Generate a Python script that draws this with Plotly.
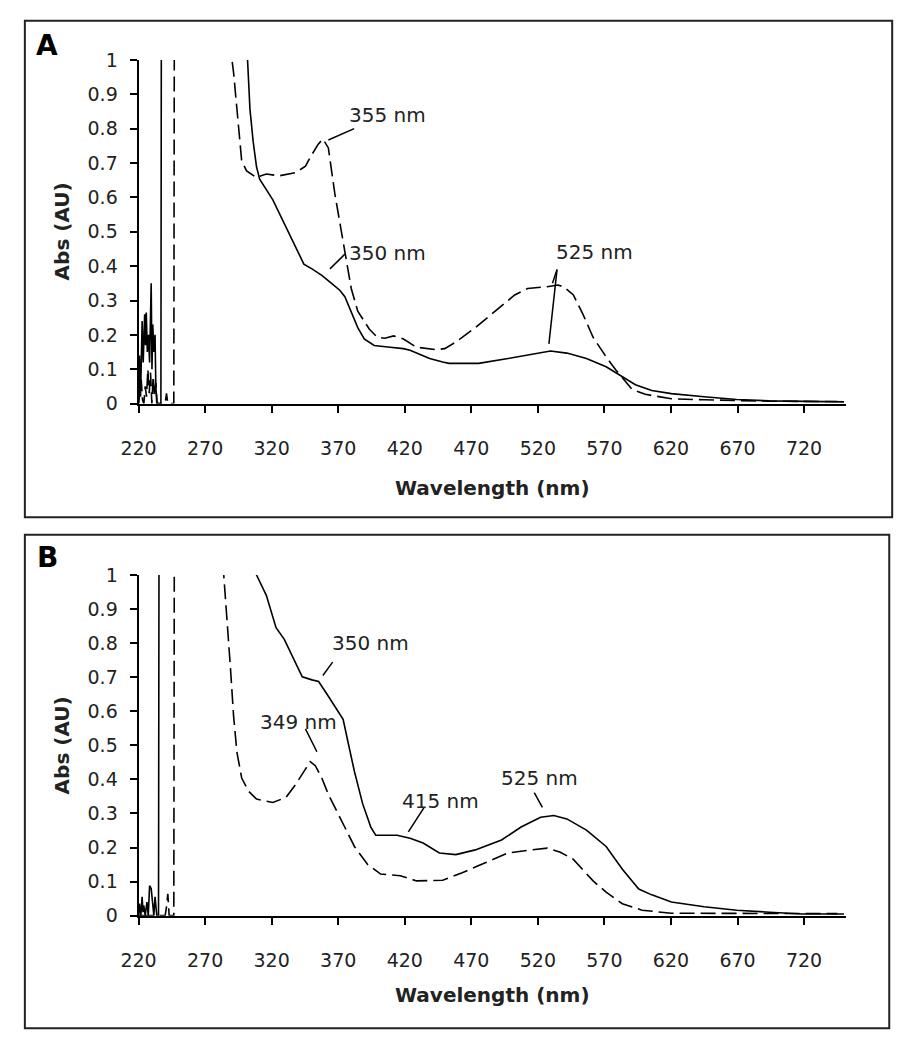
import plotly.graph_objects as go

# ---------------- data ----------------
# Panel A, solid trace
a_solid_wl = [220.0, 220.7, 221.5, 222.7, 223.5, 224.6, 225.2, 225.8, 226.6, 227.5, 228.3, 229.5,
              230.1, 230.7, 231.5, 232.4, 233.0, 233.7, 236.8, 237.4, 300.0, 301.9, 303.7, 306.1,
              308.6, 311.0, 320.9, 330.7, 338.0, 344.2, 350.3, 357.7, 365.0, 371.2, 375.0, 379.8,
              384.7, 389.6, 397.0, 409.0, 419.0, 424.0, 433.8, 438.7, 448.5, 453.4, 460.8, 475.5,
              497.6, 517.3, 529.5, 541.8, 556.5, 571.3, 581.0, 593.3, 605.6, 620.3, 644.9, 669.4,
              694.0, 750.0]
a_solid_abs = [0.0, 0.14, 0.02, 0.24, 0.12, 0.26, 0.17, 0.265, 0.15, 0.2, 0.12, 0.35,
               0.1, 0.23, 0.15, 0.2, 0.05, 0.0, 0.0, 2.0, 2.0, 1.0, 0.857, 0.763,
               0.69, 0.653, 0.593, 0.516, 0.459, 0.406, 0.392, 0.373, 0.35, 0.33, 0.311, 0.269,
               0.221, 0.188, 0.169, 0.164, 0.16, 0.155, 0.14, 0.131, 0.121, 0.117, 0.117, 0.117,
               0.131, 0.145, 0.153, 0.147, 0.131, 0.107, 0.084, 0.055, 0.038, 0.029, 0.02, 0.012,
               0.008, 0.005]

# Panel A, dashed trace
a_dash_wl = [220.0, 221.0, 222.0, 223.0, 224.0, 225.0, 226.0, 227.0, 228.0, 229.0, 230.0, 231.0,
             232.0, 233.0, 234.0, 240.0, 241.0, 242.0, 246.5, 247.2, 289.5, 290.2, 291.4, 293.9,
             295.8, 297.5, 301.2, 308.6, 316.0, 325.8, 338.0, 345.4, 350.3, 355.0, 358.5, 362.6,
             367.5, 371.2, 375.0, 379.8, 384.7, 393.3, 399.4, 405.0, 411.7, 419.0, 428.9, 443.6,
             450.0, 458.4, 473.0, 487.8, 502.6, 512.3, 527.0, 535.0, 539.4, 546.7, 554.0, 561.5,
             571.3, 578.6, 590.9, 600.7, 620.3, 645.0, 669.0, 694.0, 745.0]
a_dash_abs = [0.0, 0.03, 0.07, 0.01, 0.0, 0.05, 0.02, 0.1, 0.03, 0.09, 0.0, 0.08,
              0.02, 0.06, 0.0, 0.0, 0.03, 0.0, 0.0, 2.0, 2.0, 1.0, 0.963, 0.858,
              0.763, 0.706, 0.677, 0.658, 0.668, 0.663, 0.672, 0.691, 0.725, 0.755, 0.77, 0.744,
              0.61, 0.525, 0.44, 0.335, 0.269, 0.217, 0.193, 0.19, 0.197, 0.188, 0.164, 0.157,
              0.16, 0.179, 0.221, 0.269, 0.316, 0.335, 0.34, 0.345, 0.34, 0.316, 0.259, 0.193,
              0.136, 0.098, 0.041, 0.027, 0.014, 0.011, 0.008, 0.007, 0.006]

# Panel B, solid trace
b_solid_wl = [220.0, 220.7, 221.7, 222.7, 223.3, 223.9, 225.0, 226.3, 227.3, 228.3, 229.5, 230.7,
              231.5, 232.4, 233.7, 235.0, 235.7, 307.5, 308.6, 316.0, 323.3, 329.5, 335.6, 343.0,
              350.3, 355.3, 362.6, 368.7, 373.7, 377.4, 382.2, 388.4, 394.5, 398.2, 414.2, 424.0,
              433.8, 446.0, 458.4, 473.0, 492.7, 507.4, 522.1, 532.0, 541.8, 556.5, 571.3, 583.5,
              595.8, 605.6, 620.3, 644.9, 669.5, 694.0, 718.5, 750.0]
b_solid_abs = [0.0, 0.035, 0.0, 0.055, 0.01, 0.03, 0.0, 0.04, 0.0, 0.088, 0.08, 0.02,
               0.0, 0.055, 0.0, 0.0, 2.0, 2.0, 1.0, 0.94, 0.845, 0.811, 0.759, 0.701,
               0.692, 0.687, 0.644, 0.605, 0.576, 0.509, 0.423, 0.328, 0.26, 0.236, 0.236, 0.227,
               0.213, 0.184, 0.179, 0.193, 0.222, 0.26, 0.289, 0.294, 0.284, 0.251, 0.203, 0.136,
               0.078, 0.061, 0.04, 0.026, 0.016, 0.01, 0.005, 0.005]

# Panel B, dashed trace
b_dash_wl = [220.0, 240.0, 241.0, 242.0, 243.0, 246.5, 247.2, 283.5, 284.0, 286.5, 289.0, 291.4,
             293.9, 297.5, 302.5, 308.6, 320.9, 330.7, 338.0, 345.4, 349.0, 352.8, 357.7, 362.6,
             368.7, 374.9, 382.2, 392.1, 401.9, 416.6, 428.9, 448.5, 463.2, 480.5, 497.6, 514.8,
             527.1, 536.9, 546.7, 561.5, 571.3, 583.5, 598.3, 620.3, 694.0, 745.0]
b_dash_abs = [0.0, 0.0, 0.026, 0.064, 0.0, 0.0, 2.0, 2.0, 1.0, 0.874, 0.73, 0.586,
              0.48, 0.404, 0.366, 0.342, 0.332, 0.347, 0.385, 0.43, 0.452, 0.44, 0.404, 0.356,
              0.308, 0.26, 0.203, 0.15, 0.122, 0.117, 0.102, 0.104, 0.126, 0.155, 0.184, 0.193,
              0.198, 0.186, 0.165, 0.102, 0.069, 0.035, 0.016, 0.007, 0.007, 0.006]

x_ticks = [220, 270, 320, 370, 420, 470, 520, 570, 620, 670, 720]
x_title = "Wavelength (nm)"
y_title = "Abs (AU)"

# peak labels: text, x, y (label centre), leader start, leader end
a_labels = [("355 nm", 407.0, 0.84, (382.0, 0.80), (362.6, 0.767)),
            ("350 nm", 407.0, 0.439, (375.0, 0.435), (363.8, 0.392)),
            ("525 nm", 562.4, 0.44, (534.4, 0.39), (528.3, 0.174))]
a_extra_leader = [((534.4, 0.39), (531.0, 0.35))]
b_labels = [("350 nm", 394.5, 0.799, (365.8, 0.744), (358.5, 0.705)),
            ("349 nm", 340.5, 0.567, (345.4, 0.548), (354.0, 0.481)),
            ("415 nm", 447.2, 0.337, (434.6, 0.318), (422.7, 0.246)),
            ("525 nm", 521.6, 0.404, (517.3, 0.361), (523.4, 0.318))]

# ---------------- figure ----------------
W, H = 901, 1050
FONT = "DejaVu Sans"

def px(x):
    return x / W

def py(y):
    return 1 - y / H

fig = go.Figure()
solid = dict(color="black", width=1.6)
dashed = dict(color="black", width=1.6, dash="15px,6px")

fig.add_trace(go.Scatter(x=a_solid_wl, y=a_solid_abs, mode="lines", line=solid, xaxis="x", yaxis="y"))
fig.add_trace(go.Scatter(x=a_dash_wl, y=a_dash_abs, mode="lines", line=dashed, xaxis="x", yaxis="y"))
fig.add_trace(go.Scatter(x=b_solid_wl, y=b_solid_abs, mode="lines", line=solid, xaxis="x2", yaxis="y2"))
fig.add_trace(go.Scatter(x=b_dash_wl, y=b_dash_abs, mode="lines", line=dashed, xaxis="x2", yaxis="y2"))

xdom = [px(123), px(845)]
ydomA = [py(401), py(50)]
ydomB = [py(924), py(576)]

xcommon = dict(domain=xdom, range=[220, 751.6], tickmode="array", tickvals=x_ticks,
               ticks="outside", ticklen=7, tickwidth=2, tickcolor="black",
               showline=True, linewidth=2, linecolor="black", showgrid=False, zeroline=False,
               tickfont=dict(family=FONT, size=19, color="#222"), ticklabelstandoff=20)
ycommon = dict(range=[0, 1], tick0=0, dtick=0.1,
               ticks="outside", ticklen=7, tickwidth=2, tickcolor="black",
               showline=True, linewidth=2, linecolor="black", showgrid=False, zeroline=False,
               tickfont=dict(family=FONT, size=19, color="#222"), ticklabelstandoff=8)

fig.update_layout(
    width=W, height=H, margin=dict(l=0, r=0, t=0, b=0),
    paper_bgcolor="white", plot_bgcolor="white", showlegend=False, hovermode=False,
    xaxis=dict(anchor="y", **xcommon),
    yaxis=dict(anchor="x", domain=ydomA, **ycommon),
    xaxis2=dict(anchor="y2", **xcommon),
    yaxis2=dict(anchor="x2", domain=ydomB, **ycommon),
)

shapes = [
    dict(type="rect", xref="paper", yref="paper", x0=px(7), x1=px(892), y0=py(517), y1=py(10),
         line=dict(color="#222", width=2)),
    dict(type="rect", xref="paper", yref="paper", x0=px(7), x1=px(889), y0=py(1039), y1=py(535),
         line=dict(color="#222", width=2)),
]
annotations = []

def add_labels(labels, xr, yr):
    for text, tx, ty, p0, p1 in labels:
        annotations.append(dict(text=text, x=tx, y=ty, xref=xr, yref=yr, showarrow=False,
                                xanchor="center", yanchor="middle",
                                font=dict(family=FONT, size=20, color="#222")))
        shapes.append(dict(type="line", xref=xr, yref=yr, x0=p0[0], y0=p0[1], x1=p1[0], y1=p1[1],
                           line=dict(color="black", width=1.5)))

add_labels(a_labels, "x", "y")
add_labels(b_labels, "x2", "y2")
for p0, p1 in a_extra_leader:
    shapes.append(dict(type="line", xref="x", yref="y", x0=p0[0], y0=p0[1], x1=p1[0], y1=p1[1],
                       line=dict(color="black", width=1.5)))

# axis titles and panel letters
for cy_title_x, cy_title_y, letter, ly in [(487, 225, "A", 35), (1005, 750, "B", 558)]:
    annotations.append(dict(text="<b>%s</b>" % x_title, x=px(484), y=py(cy_title_x), xref="paper", yref="paper",
                            showarrow=False, xanchor="center", yanchor="middle",
                            font=dict(family=FONT, size=20, color="#222")))
    annotations.append(dict(text="<b>%s</b>" % y_title, x=px(45), y=py(cy_title_y), xref="paper", yref="paper",
                            showarrow=False, xanchor="center", yanchor="middle", textangle=-90,
                            font=dict(family=FONT, size=20, color="#222")))
    annotations.append(dict(text="<b>%s</b>" % letter, x=px(30), y=py(ly), xref="paper", yref="paper",
                            showarrow=False, xanchor="center", yanchor="middle",
                            font=dict(family=FONT, size=28, color="black")))

fig.update_layout(shapes=shapes, annotations=annotations)
fig.write_html("out.html", config={"displayModeBar": False},
               post_script="document.body.style.margin='0px';document.body.style.overflow='hidden';")
